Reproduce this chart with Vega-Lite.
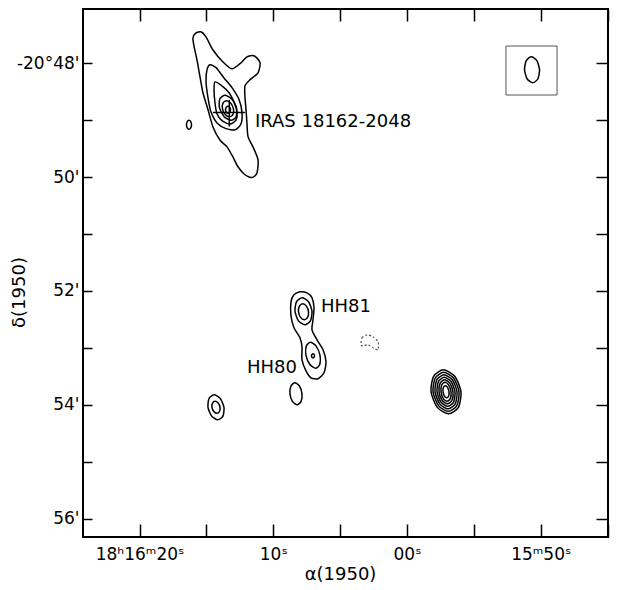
{
  "$schema": "https://vega.github.io/schema/vega-lite/v6.json",
  "width": 525,
  "height": 528,
  "autosize": "none",
  "padding": {"left": 83, "top": 9, "right": 13, "bottom": 53},
  "background": "white",
  "config": {
    "view": {"stroke": "black", "strokeWidth": 2},
    "axis": {"grid": false, "domain": false, "tickColor": "black", "labelColor": "black", "titleColor": "black", "labelFont": "DejaVu Sans", "titleFont": "DejaVu Sans", "labelFlush": false, "labelOverlap": false}
  },
  "datasets": {
    "contours": [
      {"c":"I1","i":0,"ra":15.78,"dec":47.47},{"c":"I1","i":1,"ra":15.41,"dec":47.45},{"c":"I1","i":2,"ra":15.03,"dec":47.54},{"c":"I1","i":3,"ra":14.51,"dec":47.77},{"c":"I1","i":4,"ra":13.76,"dec":47.98},{"c":"I1","i":5,"ra":13.09,"dec":48.10},{"c":"I1","i":6,"ra":12.49,"dec":48.01},{"c":"I1","i":7,"ra":11.97,"dec":47.89},{"c":"I1","i":8,"ra":11.44,"dec":47.87},{"c":"I1","i":9,"ra":10.99,"dec":47.99},{"c":"I1","i":10,"ra":11.14,"dec":48.17},{"c":"I1","i":11,"ra":11.74,"dec":48.29},{"c":"I1","i":12,"ra":12.12,"dec":48.40},{"c":"I1","i":13,"ra":12.12,"dec":48.59},{"c":"I1","i":14,"ra":12.04,"dec":48.82},{"c":"I1","i":15,"ra":11.97,"dec":49.05},{"c":"I1","i":16,"ra":11.89,"dec":49.29},{"c":"I1","i":17,"ra":11.52,"dec":49.47},{"c":"I1","i":18,"ra":11.14,"dec":49.70},{"c":"I1","i":19,"ra":11.22,"dec":49.93},{"c":"I1","i":20,"ra":11.59,"dec":50.01},{"c":"I1","i":21,"ra":12.12,"dec":49.96},{"c":"I1","i":22,"ra":12.64,"dec":49.82},{"c":"I1","i":23,"ra":13.01,"dec":49.65},{"c":"I1","i":24,"ra":13.46,"dec":49.47},{"c":"I1","i":25,"ra":13.99,"dec":49.35},{"c":"I1","i":26,"ra":14.51,"dec":49.12},{"c":"I1","i":27,"ra":14.88,"dec":48.82},{"c":"I1","i":28,"ra":15.26,"dec":48.52},{"c":"I1","i":29,"ra":15.48,"dec":48.24},{"c":"I1","i":30,"ra":15.71,"dec":47.94},{"c":"I1","i":31,"ra":15.93,"dec":47.70},{"c":"I1","i":32,"ra":16.01,"dec":47.56},
      {"c":"I2","i":0,"ra":14.73,"dec":48.03},{"c":"I2","i":1,"ra":14.28,"dec":48.08},{"c":"I2","i":2,"ra":13.69,"dec":48.26},{"c":"I2","i":3,"ra":13.09,"dec":48.43},{"c":"I2","i":4,"ra":12.56,"dec":48.64},{"c":"I2","i":5,"ra":12.34,"dec":48.87},{"c":"I2","i":6,"ra":12.42,"dec":49.07},{"c":"I2","i":7,"ra":12.86,"dec":49.17},{"c":"I2","i":8,"ra":13.54,"dec":49.15},{"c":"I2","i":9,"ra":14.21,"dec":49.05},{"c":"I2","i":10,"ra":14.66,"dec":48.86},{"c":"I2","i":11,"ra":14.88,"dec":48.61},{"c":"I2","i":12,"ra":15.03,"dec":48.33},{"c":"I2","i":13,"ra":14.96,"dec":48.12},
      {"c":"I3","i":0,"ra":14.36,"dec":48.33},{"c":"I3","i":1,"ra":13.84,"dec":48.40},{"c":"I3","i":2,"ra":13.31,"dec":48.52},{"c":"I3","i":3,"ra":12.94,"dec":48.68},{"c":"I3","i":4,"ra":12.71,"dec":48.86},{"c":"I3","i":5,"ra":12.79,"dec":49.00},{"c":"I3","i":6,"ra":13.24,"dec":49.07},{"c":"I3","i":7,"ra":13.84,"dec":49.01},{"c":"I3","i":8,"ra":14.21,"dec":48.89},{"c":"I3","i":9,"ra":14.36,"dec":48.70},{"c":"I3","i":10,"ra":14.43,"dec":48.47},
      {"c":"I4","i":0,"ra":14.023,"dec":48.785},{"c":"I4","i":1,"ra":13.672,"dec":48.940},{"c":"I4","i":2,"ra":13.153,"dec":49.004},{"c":"I4","i":3,"ra":12.772,"dec":48.940},{"c":"I4","i":4,"ra":12.751,"dec":48.785},{"c":"I4","i":5,"ra":13.102,"dec":48.630},{"c":"I4","i":6,"ra":13.621,"dec":48.566},{"c":"I4","i":7,"ra":14.002,"dec":48.630},
      {"c":"I5","i":0,"ra":13.798,"dec":48.802},{"c":"I5","i":1,"ra":13.593,"dec":48.901},{"c":"I5","i":2,"ra":13.267,"dec":48.942},{"c":"I5","i":3,"ra":13.011,"dec":48.901},{"c":"I5","i":4,"ra":12.976,"dec":48.802},{"c":"I5","i":5,"ra":13.181,"dec":48.703},{"c":"I5","i":6,"ra":13.507,"dec":48.662},{"c":"I5","i":7,"ra":13.763,"dec":48.703},
      {"c":"I6","i":0,"ra":13.574,"dec":48.820},{"c":"I6","i":1,"ra":13.519,"dec":48.863},{"c":"I6","i":2,"ra":13.387,"dec":48.881},{"c":"I6","i":3,"ra":13.255,"dec":48.863},{"c":"I6","i":4,"ra":13.200,"dec":48.820},{"c":"I6","i":5,"ra":13.255,"dec":48.777},{"c":"I6","i":6,"ra":13.387,"dec":48.759},{"c":"I6","i":7,"ra":13.519,"dec":48.777},
      {"c":"I7","i":0,"ra":16.491,"dec":49.083},{"c":"I7","i":1,"ra":16.436,"dec":49.139},{"c":"I7","i":2,"ra":16.304,"dec":49.162},{"c":"I7","i":3,"ra":16.172,"dec":49.139},{"c":"I7","i":4,"ra":16.117,"dec":49.083},{"c":"I7","i":5,"ra":16.172,"dec":49.027},{"c":"I7","i":6,"ra":16.304,"dec":49.004},{"c":"I7","i":7,"ra":16.436,"dec":49.027},
      {"c":"H1","i":0,"ra":8.003,"dec":52.015},{"c":"H1","i":1,"ra":7.479,"dec":52.033},{"c":"H1","i":2,"ra":7.105,"dec":52.120},{"c":"H1","i":3,"ra":6.955,"dec":52.296},{"c":"H1","i":4,"ra":7.030,"dec":52.507},{"c":"H1","i":5,"ra":7.105,"dec":52.682},{"c":"H1","i":6,"ra":6.731,"dec":52.858},{"c":"H1","i":7,"ra":6.282,"dec":53.033},{"c":"H1","i":8,"ra":6.058,"dec":53.244},{"c":"H1","i":9,"ra":6.208,"dec":53.437},{"c":"H1","i":10,"ra":6.656,"dec":53.542},{"c":"H1","i":11,"ra":7.180,"dec":53.525},{"c":"H1","i":12,"ra":7.554,"dec":53.402},{"c":"H1","i":13,"ra":7.853,"dec":53.209},{"c":"H1","i":14,"ra":7.853,"dec":52.981},{"c":"H1","i":15,"ra":8.003,"dec":52.823},{"c":"H1","i":16,"ra":8.451,"dec":52.647},{"c":"H1","i":17,"ra":8.676,"dec":52.437},{"c":"H1","i":18,"ra":8.676,"dec":52.191},{"c":"H1","i":19,"ra":8.451,"dec":52.068},
      {"c":"H2","i":0,"ra":8.377,"dec":52.357},{"c":"H2","i":1,"ra":8.120,"dec":52.525},{"c":"H2","i":2,"ra":7.640,"dec":52.594},{"c":"H2","i":3,"ra":7.220,"dec":52.525},{"c":"H2","i":4,"ra":7.105,"dec":52.357},{"c":"H2","i":5,"ra":7.362,"dec":52.189},{"c":"H2","i":6,"ra":7.842,"dec":52.120},{"c":"H2","i":7,"ra":8.262,"dec":52.189},
      {"c":"H3","i":0,"ra":8.115,"dec":52.366},{"c":"H3","i":1,"ra":7.963,"dec":52.465},{"c":"H3","i":2,"ra":7.681,"dec":52.506},{"c":"H3","i":3,"ra":7.435,"dec":52.465},{"c":"H3","i":4,"ra":7.367,"dec":52.366},{"c":"H3","i":5,"ra":7.519,"dec":52.267},{"c":"H3","i":6,"ra":7.801,"dec":52.226},{"c":"H3","i":7,"ra":8.047,"dec":52.267},
      {"c":"H4","i":0,"ra":7.554,"dec":53.130},{"c":"H4","i":1,"ra":7.263,"dec":53.291},{"c":"H4","i":2,"ra":6.836,"dec":53.358},{"c":"H4","i":3,"ra":6.523,"dec":53.291},{"c":"H4","i":4,"ra":6.506,"dec":53.130},{"c":"H4","i":5,"ra":6.797,"dec":52.969},{"c":"H4","i":6,"ra":7.224,"dec":52.902},{"c":"H4","i":7,"ra":7.537,"dec":52.969},
      {"c":"H5","i":0,"ra":7.142,"dec":53.139},{"c":"H5","i":1,"ra":7.109,"dec":53.164},{"c":"H5","i":2,"ra":7.030,"dec":53.174},{"c":"H5","i":3,"ra":6.951,"dec":53.164},{"c":"H5","i":4,"ra":6.918,"dec":53.139},{"c":"H5","i":5,"ra":6.951,"dec":53.114},{"c":"H5","i":6,"ra":7.030,"dec":53.104},{"c":"H5","i":7,"ra":7.109,"dec":53.114},
      {"c":"E1","i":0,"ra":8.751,"dec":53.806},{"c":"E1","i":1,"ra":8.561,"dec":53.943},{"c":"E1","i":2,"ra":8.220,"dec":53.999},{"c":"E1","i":3,"ra":7.927,"dec":53.943},{"c":"E1","i":4,"ra":7.853,"dec":53.806},{"c":"E1","i":5,"ra":8.043,"dec":53.669},{"c":"E1","i":6,"ra":8.384,"dec":53.613},{"c":"E1","i":7,"ra":8.677,"dec":53.669},
      {"c":"S1","i":0,"ra":14.883,"dec":54.043},{"c":"S1","i":1,"ra":14.609,"dec":54.198},{"c":"S1","i":2,"ra":14.145,"dec":54.262},{"c":"S1","i":3,"ra":13.763,"dec":54.198},{"c":"S1","i":4,"ra":13.687,"dec":54.043},{"c":"S1","i":5,"ra":13.961,"dec":53.888},{"c":"S1","i":6,"ra":14.425,"dec":53.824},{"c":"S1","i":7,"ra":14.807,"dec":53.888},
      {"c":"S2","i":0,"ra":14.584,"dec":54.043},{"c":"S2","i":1,"ra":14.449,"dec":54.117},{"c":"S2","i":2,"ra":14.218,"dec":54.148},{"c":"S2","i":3,"ra":14.027,"dec":54.117},{"c":"S2","i":4,"ra":13.986,"dec":54.043},{"c":"S2","i":5,"ra":14.121,"dec":53.969},{"c":"S2","i":6,"ra":14.352,"dec":53.938},{"c":"S2","i":7,"ra":14.543,"dec":53.969},
      {"c":"P1","i":0,"ra":-1.795,"dec":53.771},{"c":"P1","i":1,"ra":-2.263,"dec":54.044},{"c":"P1","i":2,"ra":-3.114,"dec":54.157},{"c":"P1","i":3,"ra":-3.849,"dec":54.044},{"c":"P1","i":4,"ra":-4.039,"dec":53.771},{"c":"P1","i":5,"ra":-3.571,"dec":53.498},{"c":"P1","i":6,"ra":-2.720,"dec":53.385},{"c":"P1","i":7,"ra":-1.985,"dec":53.498},
      {"c":"P2","i":0,"ra":-1.945,"dec":53.771},{"c":"P2","i":1,"ra":-2.354,"dec":54.013},{"c":"P2","i":2,"ra":-3.092,"dec":54.113},{"c":"P2","i":3,"ra":-3.728,"dec":54.013},{"c":"P2","i":4,"ra":-3.889,"dec":53.771},{"c":"P2","i":5,"ra":-3.480,"dec":53.529},{"c":"P2","i":6,"ra":-2.742,"dec":53.429},{"c":"P2","i":7,"ra":-2.106,"dec":53.529},
      {"c":"P3","i":0,"ra":-2.094,"dec":53.771},{"c":"P3","i":1,"ra":-2.443,"dec":53.982},{"c":"P3","i":2,"ra":-3.070,"dec":54.069},{"c":"P3","i":3,"ra":-3.607,"dec":53.982},{"c":"P3","i":4,"ra":-3.740,"dec":53.771},{"c":"P3","i":5,"ra":-3.391,"dec":53.560},{"c":"P3","i":6,"ra":-2.764,"dec":53.473},{"c":"P3","i":7,"ra":-2.227,"dec":53.560},
      {"c":"P4","i":0,"ra":-2.244,"dec":53.771},{"c":"P4","i":1,"ra":-2.533,"dec":53.951},{"c":"P4","i":2,"ra":-3.047,"dec":54.026},{"c":"P4","i":3,"ra":-3.485,"dec":53.951},{"c":"P4","i":4,"ra":-3.590,"dec":53.771},{"c":"P4","i":5,"ra":-3.301,"dec":53.591},{"c":"P4","i":6,"ra":-2.787,"dec":53.516},{"c":"P4","i":7,"ra":-2.349,"dec":53.591},
      {"c":"P5","i":0,"ra":-2.393,"dec":53.771},{"c":"P5","i":1,"ra":-2.623,"dec":53.920},{"c":"P5","i":2,"ra":-3.025,"dec":53.982},{"c":"P5","i":3,"ra":-3.363,"dec":53.920},{"c":"P5","i":4,"ra":-3.441,"dec":53.771},{"c":"P5","i":5,"ra":-3.211,"dec":53.622},{"c":"P5","i":6,"ra":-2.809,"dec":53.560},{"c":"P5","i":7,"ra":-2.471,"dec":53.622},
      {"c":"P6","i":0,"ra":-2.543,"dec":53.771},{"c":"P6","i":1,"ra":-2.713,"dec":53.889},{"c":"P6","i":2,"ra":-3.002,"dec":53.938},{"c":"P6","i":3,"ra":-3.241,"dec":53.889},{"c":"P6","i":4,"ra":-3.291,"dec":53.771},{"c":"P6","i":5,"ra":-3.121,"dec":53.653},{"c":"P6","i":6,"ra":-2.832,"dec":53.604},{"c":"P6","i":7,"ra":-2.593,"dec":53.653},
      {"c":"P7","i":0,"ra":-2.693,"dec":53.771},{"c":"P7","i":1,"ra":-2.797,"dec":53.845},{"c":"P7","i":2,"ra":-2.971,"dec":53.876},{"c":"P7","i":3,"ra":-3.113,"dec":53.845},{"c":"P7","i":4,"ra":-3.141,"dec":53.771},{"c":"P7","i":5,"ra":-3.037,"dec":53.697},{"c":"P7","i":6,"ra":-2.863,"dec":53.666},{"c":"P7","i":7,"ra":-2.721,"dec":53.697},
      {"c":"B1","i":0,"ra":-8.788,"dec":48.118},{"c":"B1","i":1,"ra":-8.987,"dec":48.279},{"c":"B1","i":2,"ra":-9.398,"dec":48.346},{"c":"B1","i":3,"ra":-9.781,"dec":48.279},{"c":"B1","i":4,"ra":-9.910,"dec":48.118},{"c":"B1","i":5,"ra":-9.711,"dec":47.957},{"c":"B1","i":6,"ra":-9.300,"dec":47.890},{"c":"B1","i":7,"ra":-8.917,"dec":47.957}
    ],
    "dashed": [
      {"c":"D1","i":0,"ra":3.440,"dec":52.946},{"c":"D1","i":1,"ra":3.366,"dec":52.823},{"c":"D1","i":2,"ra":2.992,"dec":52.771},{"c":"D1","i":3,"ra":2.543,"dec":52.806},{"c":"D1","i":4,"ra":2.169,"dec":52.893},{"c":"D1","i":5,"ra":2.169,"dec":53.033},{"c":"D1","i":6,"ra":2.543,"dec":52.998},{"c":"D1","i":7,"ra":2.917,"dec":52.946},{"c":"D1","i":8,"ra":3.291,"dec":52.963}
    ],
    "cross": [
      {"ra":14.51,"ra2":12.12,"dec":48.867,"dec2":48.867},
      {"ra":13.29,"ra2":13.29,"dec":48.644,"dec2":49.113}
    ],
    "beambox": [
      {"ra":-7.40,"ra2":-11.22,"dec":47.70,"dec2":48.56}
    ],
    "labels": [
      {"t":"IRAS 18162-2048","ra":11.37,"dec":49.118},
      {"t":"HH81","ra":6.43,"dec":52.366},
      {"t":"HH80","ra":11.97,"dec":53.437}
    ]
  },
  "layer": [
    {
      "data": {"name": "contours"},
      "mark": {"type": "line", "interpolate": "cardinal-closed", "tension": 0.3, "stroke": "black", "strokeWidth": 1.5},
      "encoding": {
        "x": {"field": "ra", "type": "quantitative",
              "scale": {"domain": [-15.03, 24.23], "reverse": true, "nice": false, "zero": false},
              "axis": {"orient": "bottom", "values": [20, 15, 10, 5, 0, -5, -10, -15],
                       "labelExpr": "datum.value == 20 ? '18ʰ16ᵐ20ˢ' : datum.value == 10 ? '10ˢ' : datum.value == 0 ? '00ˢ' : datum.value == -10 ? '15ᵐ50ˢ' : ''",
                       "tickSize": -13, "tickWidth": 1.5, "labelPadding": 22, "labelFontSize": 17,
                       "title": "α(1950)", "titleFontSize": 18, "titleFontWeight": "normal",
                       "titleX": 257, "titleY": 37, "titleAlign": "center", "titleBaseline": "middle"}},
        "y": {"field": "dec", "type": "quantitative",
              "scale": {"domain": [47.05, 56.32], "reverse": true, "nice": false, "zero": false},
              "axis": {"orient": "left", "values": [48, 49, 50, 51, 52, 53, 54, 55, 56],
                       "labelExpr": "datum.value == 48 ? \"-20°48'\" : (datum.value % 2 == 0 ? datum.value + \"'\" : \"\")",
                       "tickSize": -9, "tickWidth": 1.5, "labelPadding": 13, "labelFontSize": 17,
                       "title": "δ(1950)", "titleFontSize": 18, "titleFontWeight": "normal",
                       "titleX": -64, "titleY": 283, "titleAngle": -90, "titleAlign": "center", "titleBaseline": "middle"}},
        "detail": {"field": "c", "type": "nominal"},
        "order": {"field": "i", "type": "quantitative"}
      }
    },
    {
      "data": {"name": "dashed"},
      "mark": {"type": "line", "interpolate": "cardinal-closed", "tension": 0.3, "stroke": "#555555", "strokeWidth": 1.2, "strokeDash": [2, 2]},
      "encoding": {
        "x": {"field": "ra", "type": "quantitative",
              "axis": {"orient": "top", "values": [20, 15, 10, 5, 0, -5, -10, -15], "labels": false, "tickSize": -12, "tickWidth": 1.5, "title": null}},
        "y": {"field": "dec", "type": "quantitative",
              "axis": {"orient": "right", "values": [48, 49, 50, 51, 52, 53, 54, 55, 56], "labels": false, "tickSize": -12, "tickWidth": 1.5, "title": null}},
        "detail": {"field": "c", "type": "nominal"},
        "order": {"field": "i", "type": "quantitative"}
      }
    },
    {
      "data": {"name": "cross"},
      "mark": {"type": "rule", "stroke": "black", "strokeWidth": 1.5},
      "encoding": {
        "x": {"field": "ra", "type": "quantitative", "axis": null},
        "x2": {"field": "ra2"},
        "y": {"field": "dec", "type": "quantitative", "axis": null},
        "y2": {"field": "dec2"}
      }
    },
    {
      "data": {"name": "beambox"},
      "mark": {"type": "rect", "fill": null, "fillOpacity": 0, "stroke": "#555555", "strokeWidth": 1},
      "encoding": {
        "x": {"field": "ra", "type": "quantitative", "axis": null},
        "x2": {"field": "ra2"},
        "y": {"field": "dec", "type": "quantitative", "axis": null},
        "y2": {"field": "dec2"}
      }
    },
    {
      "data": {"name": "labels"},
      "mark": {"type": "text", "align": "left", "baseline": "alphabetic", "font": "DejaVu Sans", "fontSize": 18, "color": "black"},
      "encoding": {
        "x": {"field": "ra", "type": "quantitative", "axis": null},
        "y": {"field": "dec", "type": "quantitative", "axis": null},
        "text": {"field": "t", "type": "nominal"}
      }
    }
  ],
  "resolve": {"axis": {"x": "independent", "y": "independent"}}
}
